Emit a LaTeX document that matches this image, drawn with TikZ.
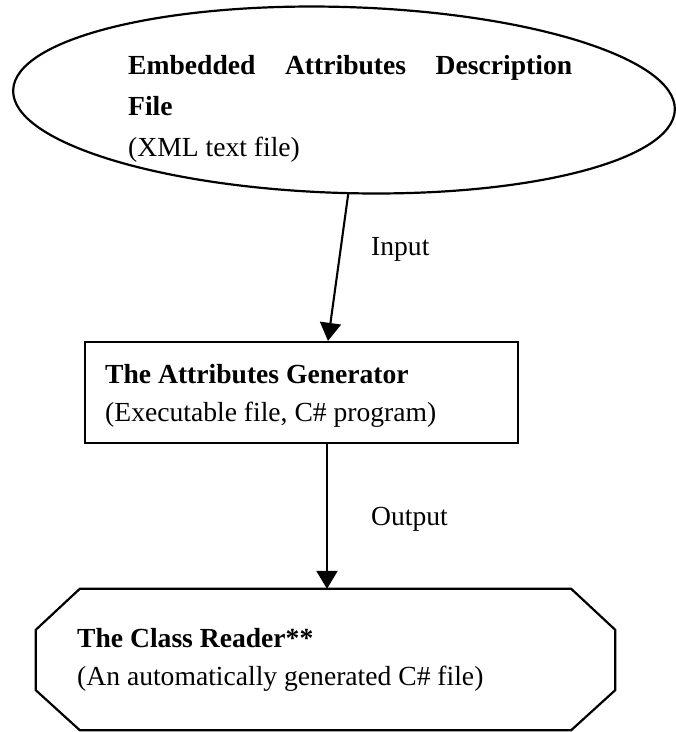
\documentclass[tikz,border=0pt]{standalone}
\usepackage{fontspec}
\setmainfont{Liberation Serif}
\usetikzlibrary{arrows.meta,shapes.geometric}
\begin{document}
\begin{tikzpicture}[x=1pt,y=-1pt,
  outline/.style={draw=black,line width=2.2pt},
  txt/.style={anchor=base west,inner sep=0pt,font=\fontsize{27.6}{41}\selectfont},
  hdr/.style={txt,font=\fontsize{27.6}{41}\selectfont\bfseries},
  flow/.style={line width=2.1pt,-{Triangle[width=21pt,length=18pt]}}]
\useasboundingbox (0,0) rectangle (676,732);

% source description file
\node[outline,ellipse,minimum width=662pt,minimum height=186pt,inner sep=0pt,rotate=-1.7] (src) at (344,100) {};
\node[hdr] (srcA) at (128,74) {\makebox[444pt][s]{Embedded\hfill Attributes\hfill Description}};
\node[hdr] (srcB) at (128,115) {File};
\node[txt] (srcC) at (128,156) {(XML text file)};

% generator program
\node[outline,rectangle,minimum width=433pt,minimum height=101pt,inner sep=0pt] (gen) at (301.5,392.5) {};
\node[hdr] (genA) at (105,383) {The Attributes Generator};
\node[txt] (genB) at (105,421) {(Executable file, C\# program)};

% generated reader: chamfered box
\node[minimum width=579pt,minimum height=141pt,inner sep=0pt] (oct) at (325.5,659.5) {};
\draw[outline,line join=miter]
  ([xshift=44pt]oct.north west) -- ([xshift=-44pt]oct.north east)
  -- ([yshift=-41pt]oct.north east) -- ([yshift=40pt]oct.south east)
  -- ([xshift=-44pt]oct.south east) -- ([xshift=44pt]oct.south west)
  -- ([yshift=40pt]oct.south west) -- ([yshift=-41pt]oct.north west) -- cycle;
\node[hdr] (octA) at (77,647) {The Class Reader**};
\node[txt] (octB) at (77,685) {(An automatically generated C\# file)};

% connectors
\draw[flow] ([xshift=7pt]src.south) -- ([xshift=26.5pt]gen.north);
\draw[flow] ([xshift=25.5pt]gen.south) -- ([xshift=25.5pt]gen.south |- oct.north);
\node[txt] (lblIn) at (371,255) {Input};
\node[txt] (lblOut) at (371,525) {Output};
\end{tikzpicture}
\end{document}
